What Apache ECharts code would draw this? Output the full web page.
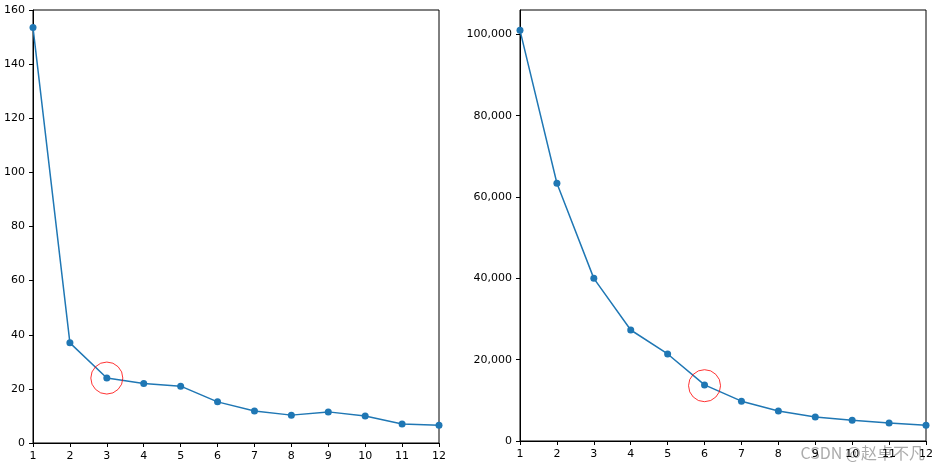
<!DOCTYPE html>
<html><head><meta charset="utf-8">
<script src="https://cdn.jsdelivr.net/npm/echarts@6/dist/echarts.min.js"></script>
<style>body{margin:0}#c{width:939px;height:469px}</style></head>
<body><div id="c"></div>
<script>
const ks = [1,2,3,4,5,6,7,8,9,10,11,12];
const leftVals = [153.5,37,24,22,21,15.2,11.8,10.3,11.5,10,7,6.6];
const rightVals = [101000,63400,40000,27300,21400,13800,9800,7400,5900,5100,4400,3900];
const leftMark = [3,24];
const rightMark = [6,13600];
const chart = echarts.init(document.getElementById('c'));
const font = {color:'#000',fontSize:11,fontFamily:'DejaVu Sans'};
function xa(i){return {type:'value',gridIndex:i,min:1,max:12,interval:1,
  axisLine:{lineStyle:{color:'#000'}},axisTick:{lineStyle:{color:'#000'},length:4},
  axisLabel:font,splitLine:{show:false}};}
function ya(i,max,iv){return {type:'value',gridIndex:i,min:0,max:max,interval:iv,
  axisLine:{show:true,lineStyle:{color:'#000'}},axisTick:{show:true,lineStyle:{color:'#000'},length:4},
  axisLabel:Object.assign({showMaxLabel:max%iv===0},font),splitLine:{show:false}};}
function line(i,vals){return {type:'line',xAxisIndex:i,yAxisIndex:i,data:ks.map((k,j)=>[k,vals[j]]),
  symbol:'circle',symbolSize:7,itemStyle:{color:'#1f77b4'},lineStyle:{color:'#1f77b4',width:1.5},animation:false};}
function ring(i,p){return {type:'scatter',xAxisIndex:i,yAxisIndex:i,data:[p],symbol:'circle',symbolSize:32,
  itemStyle:{color:'transparent',borderColor:'red',borderWidth:1},z:5,animation:false};}
chart.setOption({
  animation:false,
  grid:[{left:33,right:500,top:10,bottom:26,show:true,borderColor:'#000',borderWidth:1},
        {left:520,right:13,top:10,bottom:28,show:true,borderColor:'#000',borderWidth:1}],
  xAxis:[xa(0),xa(1)],
  yAxis:[ya(0,160,20),ya(1,106000,20000)],
  series:[line(0,leftVals),ring(0,leftMark),line(1,rightVals),ring(1,rightMark)],
  graphic:[{type:'text',right:14,bottom:8,style:{text:'CSDN @赵卓不凡',fill:'rgba(150,150,150,0.8)',
    font:'16px "Noto Sans CJK SC"'}}]
});
</script></body></html>
